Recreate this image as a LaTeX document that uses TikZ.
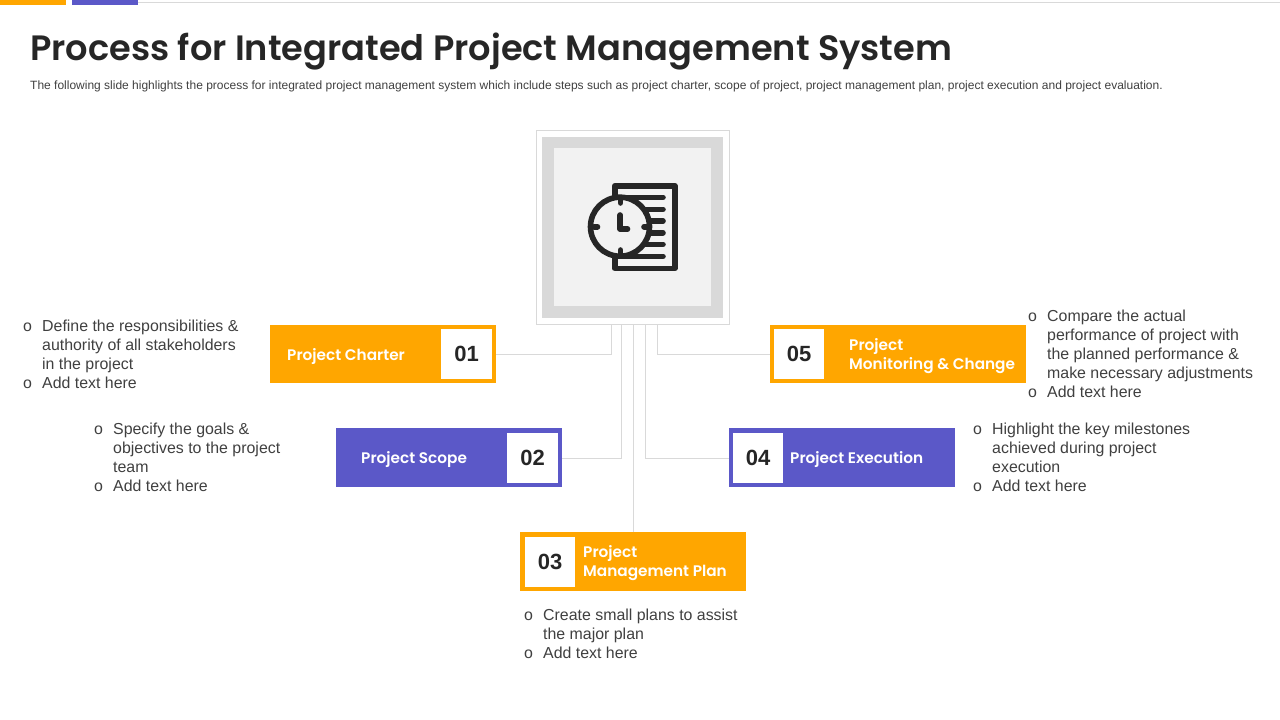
\documentclass[tikz,border=0pt]{standalone}
\usepackage{fontspec}
\setmainfont{Liberation Sans}
\newfontfamily\pop{Poppins}[BoldFont={Poppins SemiBold}]
\usetikzlibrary{calc}
\definecolor{orng}{HTML}{FFA600}
\definecolor{purp}{HTML}{5B58C8}
\definecolor{ink}{HTML}{262626}
\definecolor{body}{HTML}{404040}
\definecolor{rulec}{HTML}{D9D9D9}
\definecolor{panel}{HTML}{F2F2F2}
\newcommand{\fs}[2]{\fontsize{#1pt}{#2pt}\selectfont}
\tikzset{
  x=1pt,y=-1pt,
  card/.style={draw=none,minimum height=58.5pt,inner sep=0pt,outer sep=0pt},
  numbox/.style={fill=white,minimum width=50.5pt,minimum height=50pt,inner sep=0pt,font=\fs{22}{26}\bfseries,text=ink},
  cardtext/.style={anchor=west,align=left,inner sep=0pt,text=white,font=\pop\fs{15.3}{19}\bfseries},
  bullets/.style={anchor=north west,inner sep=0pt,text=body,font=\fs{15.9}{19}},
  link/.style={draw=rulec,line width=1pt},
  iconline/.style={draw=ink,line width=5.6pt,line cap=round,line join=round},
}
\newcommand{\blist}[1]{\renewcommand{\arraystretch}{1}\setlength{\tabcolsep}{0pt}\begin{tabular}{@{}p{19pt}@{}l@{}}#1\end{tabular}}
\begin{document}
\begin{tikzpicture}
\useasboundingbox (0,0) rectangle (1280,720);
\fill[white] (0,0) rectangle (1280,720);
% top bar
\draw[rulec,line width=1pt] (138,2.5) -- (1280,2.5);
\fill[orng] (0,0) rectangle (66,5);
\fill[purp] (72,0) rectangle (138,5);
% title
\node[anchor=base west,inner sep=0pt,text=ink,font=\pop\fs{35.2}{40}\bfseries] (title) at (30,60) {Process for Integrated Project Management System};
\node[anchor=base west,inner sep=0pt,text=body,font=\fs{12}{14}] (sub) at (30,89) {The following slide highlights the process for integrated project management system which include steps such as project charter, scope of project, project management plan, project execution and project evaluation.};
% hub
\node[draw=rulec,fill=white,line width=1pt,minimum width=193pt,minimum height=194pt,inner sep=0pt,outer sep=0pt] (hub) at (633,227.5) {};
\fill[rulec] (542,137) rectangle (723,318);
\fill[panel] (554,148) rectangle (711,306);
% icon
\draw[iconline] (614.8,185.7) rectangle (674.7,268.3);
\foreach \yy in {197.3,209.3,221,232.7,244.3,256.3}
  \draw[iconline] (622,\yy) -- (663,\yy);
\draw[iconline,fill=panel] (620,226.7) circle[radius=29.5];
\draw[iconline] (620.5,199) -- (620.5,203);
\draw[iconline] (620.5,250) -- (620.5,254.5);
\draw[iconline] (594,226.7) -- (597.5,226.7);
\draw[iconline] (644,226.7) -- (647.5,226.7);
\draw[iconline] (620.2,215) -- (620.2,229) -- (627.5,229);
% cards
\node[card,fill=orng,minimum width=226pt] (c1) at (383,354) {};
\node[numbox] (n1) at (466.5,354) {01};
\node[cardtext] (t1) at (287,357) {Project Charter};
\node[card,fill=purp,minimum width=226pt] (c2) at (449,457.5) {};
\node[numbox] (n2) at (532.5,458) {02};
\node[cardtext] (t2) at (361,460) {Project Scope};
\node[card,fill=orng,minimum width=226pt] (c3) at (633,561.5) {};
\node[numbox] (n3) at (550,561.5) {03};
\node[cardtext] (t3) at (583,563) {Project\\Management Plan};
\node[card,fill=purp,minimum width=226pt] (c4) at (842,457.5) {};
\node[numbox] (n4) at (758,458) {04};
\node[cardtext] (t4) at (790,460) {Project Execution};
\node[card,fill=orng,minimum width=256pt] (c5) at (898,354) {};
\node[numbox] (n5) at (799,354) {05};
\node[cardtext] (t5) at (849,356) {Project\\Monitoring \& Change};
% connectors
\coordinate (h1) at ($(hub.south)+(-22,0)$);
\coordinate (h2) at ($(hub.south)+(-12,0)$);
\coordinate (h4) at ($(hub.south)+(12,0)$);
\coordinate (h5) at ($(hub.south)+(24,0)$);
\draw[link] (c1.east) -| (h1);
\draw[link] (c2.east |- n2.center) -| (h2);
\draw[link] (c3.north) -- (hub.south);
\draw[link] (c4.west |- n4.center) -| (h4);
\draw[link] (c5.west) -| (h5);
% bullets
\node[bullets] (b1) at (23,318) {\blist{o&Define the responsibilities \&\\&authority of all stakeholders\\&in the project\\o&Add text here}};
\node[bullets] (b2) at (94,421.3) {\blist{o&Specify the goals \&\\&objectives to the project\\&team\\o&Add text here}};
\node[bullets] (b3) at (524,607) {\blist{o&Create small plans to assist\\&the major plan\\o&Add text here}};
\node[bullets] (b4) at (973,421.3) {\blist{o&Highlight the key milestones\\&achieved during project\\&execution\\o&Add text here}};
\node[bullets] (b5) at (1028,308) {\blist{o&Compare the actual\\&performance of project with\\&the planned performance \&\\&make necessary adjustments\\o&Add text here}};
\end{tikzpicture}
\end{document}
